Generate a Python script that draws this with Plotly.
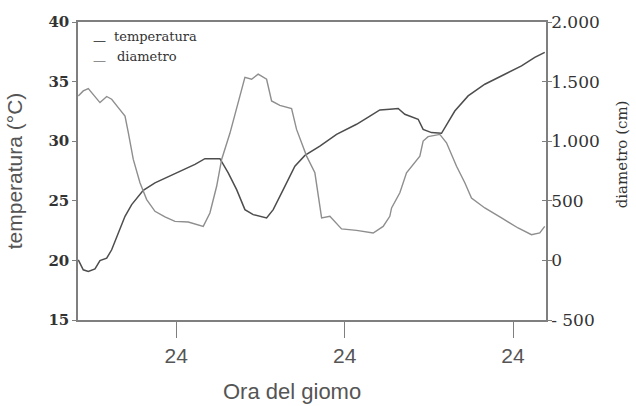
import plotly.graph_objects as go

# hours since midnight of day 1 (ticks every 24 h labelled "24")
temp_hours = [10.04, 10.75, 11.47, 12.42, 13.13, 14.09, 14.80, 15.74, 16.70, 17.65,
              19.30, 20.97, 22.86, 24.77, 26.67, 28.09, 30.23, 31.41, 32.61, 33.79,
              34.97, 36.88, 37.82, 39.25, 40.91, 42.34, 44.47, 46.85, 49.70, 51.60,
              53.02, 54.44, 55.63, 56.58, 58.48, 59.19, 60.38, 61.81, 62.75, 63.70,
              65.60, 67.98, 70.83, 73.21, 75.10, 76.52]
temperatura = [20.05, 19.21, 19.07, 19.29, 19.99, 20.19, 20.89, 22.32, 23.70, 24.68,
               25.88, 26.51, 27.01, 27.48, 28.05, 28.53, 28.53, 27.35, 25.94, 24.26,
               23.84, 23.56, 24.26, 25.94, 27.90, 28.81, 29.59, 30.57, 31.42, 32.11,
               32.62, 32.68, 32.74, 32.26, 31.84, 30.99, 30.72, 30.66, 31.56, 32.53,
               33.80, 34.78, 35.62, 36.32, 37.03, 37.45]

diam_hours = [10.04, 10.75, 11.47, 12.18, 13.13, 14.09, 14.80, 15.74, 16.70, 17.17,
              17.88, 18.83, 19.79, 20.97, 22.39, 23.82, 25.71, 27.85, 28.80, 29.76,
              30.47, 31.65, 32.61, 33.79, 34.74, 35.68, 36.88, 37.59, 38.77, 40.44,
              41.15, 42.58, 43.76, 44.23, 44.72, 45.90, 47.56, 49.70, 52.07, 53.49,
              54.44, 54.69, 55.87, 56.82, 58.01, 58.72, 59.19, 59.90, 61.57, 62.52,
              63.95, 65.13, 66.08, 67.98, 70.36, 72.72, 74.63, 75.81, 76.52]
diametro = [1380, 1422, 1442, 1394, 1324, 1375, 1352, 1282, 1211, 1072,
            847, 651, 510, 412, 365, 327, 322, 285, 398, 622,
            847, 1066, 1268, 1535, 1520, 1562, 1520, 1338, 1301, 1274,
            1099, 875, 735, 567, 356, 370, 264, 252, 230, 285,
            370, 440, 567, 735, 819, 875, 1001, 1038, 1057, 987,
            790, 651, 524, 440, 356, 272, 216, 230, 285]

x_tickvals = [24, 48, 72]
x_ticktext = ["24", "24", "24"]
y1_tickvals = [15, 20, 25, 30, 35, 40]
y2_tickvals = [-500, 0, 500, 1000, 1500, 2000]
y2_ticktext = ["- 500", "0", "500", "1.000", "1.500", "2.000"]

series_names = ["temperatura", "diametro"]
series_colors = ["#4d4d4d", "#8e8e8e"]

AX = "#7f7f7f"
fig = go.Figure()
fig.add_trace(go.Scatter(x=temp_hours, y=temperatura, name=series_names[0], mode="lines",
                         line=dict(color=series_colors[0], width=1.5)))
fig.add_trace(go.Scatter(x=diam_hours, y=diametro, name=series_names[1], mode="lines",
                         yaxis="y2", line=dict(color=series_colors[1], width=1.4)))

annotations = []
# legend (short dash + label)
for name, col, ty, dy, tx in zip(series_names, series_colors, [0.9507, 0.8836],
                                 [0.937, 0.870], [0.0726, 0.079]):
    annotations.append(dict(xref="paper", yref="paper", x=0.0449, y=dy, text="—",
                            showarrow=False, xanchor="center", yanchor="middle",
                            font=dict(family="DejaVu Serif", size=13, color=col)))
    annotations.append(dict(xref="paper", yref="paper", x=tx, y=ty, text=name,
                            showarrow=False, xanchor="left", yanchor="middle",
                            font=dict(family="DejaVu Serif", size=13, color="#333333")))
# x axis title
annotations.append(dict(xref="paper", yref="paper", x=0.457, y=-0.2416, text="Ora del giomo",
                        showarrow=False, xanchor="center", yanchor="middle",
                        font=dict(family="Liberation Sans", size=22, color="#555555")))
# right axis title
annotations.append(dict(xref="paper", yref="paper", x=1.163, y=0.557, text="diametro (cm)",
                        showarrow=False, xanchor="center", yanchor="middle", textangle=-90,
                        font=dict(family="DejaVu Serif", size=15, color="#333333")))

fig.update_layout(
    width=636, height=406,
    margin=dict(l=78, r=90, t=22, b=86),
    paper_bgcolor="white", plot_bgcolor="white",
    showlegend=False,
    annotations=annotations,
    xaxis=dict(range=[10, 76.7], tickvals=x_tickvals, ticktext=x_ticktext,
               showgrid=False, zeroline=False, showline=True, linecolor=AX, linewidth=1.5,
               mirror=True, ticks="outside", ticklen=16, tickcolor=AX, tickwidth=1.2,
               tickfont=dict(family="Liberation Sans", size=21, color="#555555")),
    yaxis=dict(range=[15, 40], tickvals=y1_tickvals,
               showgrid=False, zeroline=False, showline=True, linecolor=AX, linewidth=1.5,
               mirror="ticks", ticks="outside", ticklen=4, tickcolor=AX,
               tickfont=dict(family="DejaVu Serif", size=15, color="#333333", weight="bold"),
               title=dict(text="temperatura (°C)", standoff=20,
                          font=dict(family="Liberation Sans", size=21, color="#555555"))),
    yaxis2=dict(range=[-500, 2000], tickvals=y2_tickvals, ticktext=y2_ticktext,
                overlaying="y", side="right",
                showgrid=False, zeroline=False, showline=True, linecolor=AX, linewidth=1.5,
                ticks="inside", ticklen=4, tickcolor=AX,
                tickfont=dict(family="DejaVu Serif", size=17, color="#333333")),
)

fig.write_html("out.html", config={"displayModeBar": False},
               post_script="document.body.style.margin='0px';document.body.style.overflow='hidden';")
